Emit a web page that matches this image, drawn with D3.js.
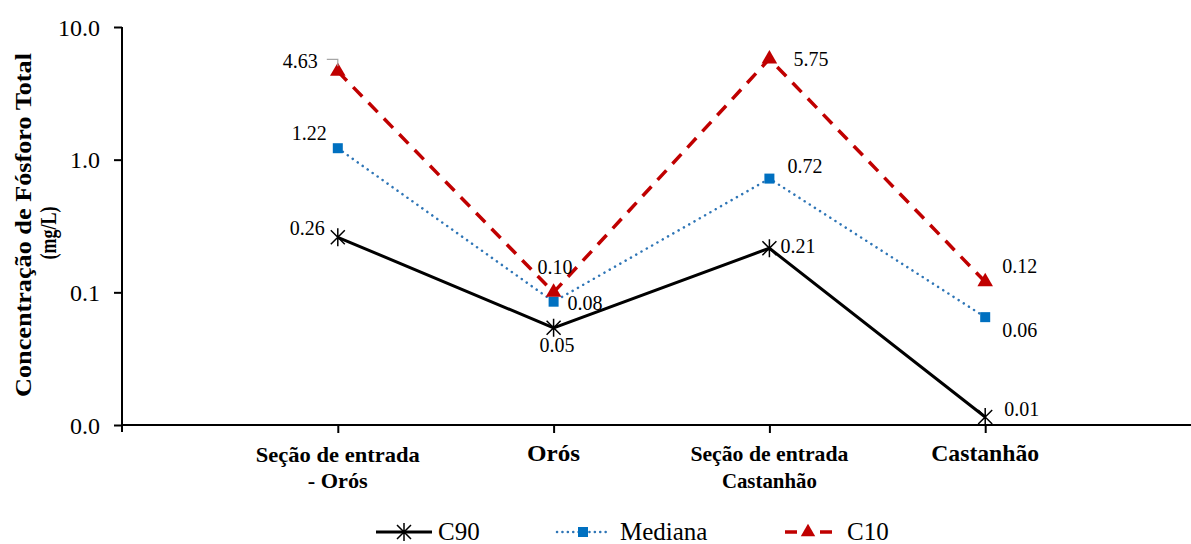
<!DOCTYPE html>
<html>
<head>
<meta charset="utf-8">
<script src="https://cdn.jsdelivr.net/npm/d3@7"></script>
</head>
<body style="margin:0; background:#fff">
<div id="chart-area"></div>
<script>
// data
var categories = ["Seção de entrada - Orós", "Orós", "Seção de entrada Castanhão", "Castanhão"];
var c90 = [0.26, 0.054, 0.215, 0.0115];
var mediana = [1.22, 0.085, 0.72, 0.065];
var c10 = [4.63, 0.10, 5.75, 0.12];
var c90Labels = ["0.26", "0.05", "0.21", "0.01"];
var medianaLabels = ["1.22", "0.08", "0.72", "0.06"];
var c10Labels = ["4.63", "0.10", "5.75", "0.12"];
var yTicks = [0.01, 0.1, 1, 10];
var yTickLabels = ["0.0", "0.1", "1.0", "10.0"];

var width = 1191, height = 544;
var FONT = "Liberation Serif";

var svg = d3.select("#chart-area")
    .append("svg")
        .attr("width", width)
        .attr("height", height)
        .attr("font-family", FONT);

var xScale = d3.scalePoint()
    .domain(categories)
    .range([122, 1201])
    .padding(1);

var yScale = d3.scaleLog()
    .domain([0.01, 10])
    .range([425, 27]);

// y axis
var yAxisCall = d3.axisLeft(yScale)
    .tickValues(yTicks)
    .tickSize(8)
    .tickFormat(function(d, i){ return yTickLabels[i]; });

var yAxis = svg.append("g")
    .attr("class", "y-axis")
    .attr("transform", "translate(122,0)")
    .call(yAxisCall)
    .attr("font-family", FONT)
    .attr("font-size", 24);
yAxis.select(".domain").attr("d", "M0,27V432").attr("stroke-width", 2);
yAxis.selectAll(".tick line").attr("stroke-width", 2);
yAxis.selectAll("text")
    .attr("font-family", FONT)
    .attr("font-size", "24px")
    .attr("fill", "#000")
    .attr("x", -22)
    .attr("dy", "0.34em");

// x axis
var xAxisCall = d3.axisBottom(xScale).tickSize(8).tickFormat("");
var xAxis = svg.append("g")
    .attr("class", "x-axis")
    .attr("transform", "translate(0,425)")
    .call(xAxisCall);
xAxis.select(".domain").attr("d", "M121,0H" + width).attr("stroke-width", 2);
xAxis.selectAll(".tick line").attr("stroke-width", 2);

// category labels: [text, font size, baseline, width]
var catLines = [
    [["Seção de entrada", 21, 462, 164], ["- Orós", 21, 488, 60]],
    [["Orós", 24, 461, 53]],
    [["Seção de entrada", 21, 461, 158], ["Castanhão", 21, 488, 95]],
    [["Castanhão", 24, 461, 108]]
];
categories.forEach(function(c, i){
    catLines[i].forEach(function(l){
        svg.append("text")
            .attr("x", xScale(c))
            .attr("y", l[2])
            .attr("text-anchor", "middle")
            .attr("font-family", FONT)
            .attr("font-weight", "bold")
            .attr("font-size", l[1] + "px")
            .attr("textLength", l[3])
            .attr("lengthAdjust", "spacingAndGlyphs")
            .text(l[0]);
    });
});

// y title
svg.append("text")
    .attr("transform", "translate(31,225) rotate(-90)")
    .attr("text-anchor", "middle")
    .attr("font-family", FONT)
    .attr("font-weight", "bold")
    .attr("font-size", "23px")
    .attr("textLength", 344)
    .attr("lengthAdjust", "spacingAndGlyphs")
    .text("Concentração de Fósforo Total");
svg.append("text")
    .attr("transform", "translate(56,233) rotate(-90)")
    .attr("text-anchor", "middle")
    .attr("font-family", FONT)
    .attr("font-weight", "bold")
    .attr("font-size", "23px")
    .attr("textLength", 53)
    .attr("lengthAdjust", "spacingAndGlyphs")
    .text("(mg/L)");

var line = d3.line()
    .x(function(d, i){ return xScale(categories[i]); })
    .y(function(d){ return yScale(d); });

var starPath = "M-7,-7L7,7M-7,7L7,-7M0,-9V9";

// C10
svg.append("path")
    .attr("d", line(c10))
    .attr("fill", "none")
    .attr("stroke", "#C00000")
    .attr("stroke-width", 3.5)
    .attr("stroke-dasharray", "13,9");
// Mediana
svg.append("path")
    .attr("d", line(mediana))
    .attr("fill", "none")
    .attr("stroke", "#2E75B6")
    .attr("stroke-width", 2.5)
    .attr("stroke-linecap", "round")
    .attr("stroke-dasharray", "0.1,6");
// C90
svg.append("path")
    .attr("d", line(c90))
    .attr("fill", "none")
    .attr("stroke", "#000")
    .attr("stroke-width", 3);

var tri = d3.symbol().type(d3.symbolTriangle).size(105);

svg.selectAll(".m-c90")
    .data(c90)
    .enter().append("path")
        .attr("class", "m-c90")
        .attr("d", starPath)
        .attr("stroke", "#000")
        .attr("stroke-width", 1.5)
        .attr("fill", "none")
        .attr("transform", function(d, i){ return "translate(" + xScale(categories[i]) + "," + yScale(d) + ")"; });

svg.selectAll(".m-med")
    .data(mediana)
    .enter().append("rect")
        .attr("class", "m-med")
        .attr("x", function(d, i){ return xScale(categories[i]) - 5; })
        .attr("y", function(d){ return yScale(d) - 5; })
        .attr("width", 10)
        .attr("height", 10)
        .attr("fill", "#0070C0");

svg.selectAll(".m-c10")
    .data(c10)
    .enter().append("path")
        .attr("class", "m-c10")
        .attr("d", tri)
        .attr("fill", "#C00000")
        .attr("transform", function(d, i){ return "translate(" + xScale(categories[i]) + "," + yScale(d) + ")"; });

// label offsets (dx to left edge, dy to baseline) from each point
var c90Off = [[-48, -2], [-14, 24], [11, 5], [19, -1]];
var medOff = [[-46, -8], [14, 8], [18, -6], [17, 20]];
var c10Off = [[-55, -3], [-16, -18], [24, 7], [17, -9]];

function addLabels(vals, labels, offs){
    vals.forEach(function(d, i){
        svg.append("text")
            .attr("x", xScale(categories[i]) + offs[i][0])
            .attr("y", yScale(d) + offs[i][1])
            .attr("font-family", FONT)
            .attr("font-size", "20px")
            .text(labels[i]);
    });
}
addLabels(c90, c90Labels, c90Off);
addLabels(mediana, medianaLabels, medOff);
addLabels(c10, c10Labels, c10Off);

// leader line for 4.63
var lx = xScale(categories[0]), ly = yScale(c10[0]);
svg.append("path")
    .attr("d", "M" + (lx - 11) + "," + (ly - 12) + "H" + lx + "V" + (ly - 5))
    .attr("fill", "none")
    .attr("stroke", "#a6a6a6")
    .attr("stroke-width", 1.2);

// legend
var legendNames = ["C90", "Mediana", "C10"];
var ly2 = 532;
var lg = svg.append("g");
lg.append("line").attr("x1", 376).attr("x2", 432).attr("y1", ly2).attr("y2", ly2)
    .attr("stroke", "#000").attr("stroke-width", 3);
lg.append("path").attr("d", starPath).attr("stroke", "#000").attr("stroke-width", 1.5)
    .attr("transform", "translate(404," + ly2 + ")");
lg.append("line").attr("x1", 557).attr("x2", 610).attr("y1", ly2).attr("y2", ly2)
    .attr("stroke", "#2E75B6").attr("stroke-width", 2.5).attr("stroke-linecap", "round")
    .attr("stroke-dasharray", "0.1,5.3");
lg.append("rect").attr("x", 578).attr("y", ly2 - 5).attr("width", 10).attr("height", 10)
    .attr("fill", "#0070C0");
lg.append("line").attr("x1", 785).attr("x2", 832).attr("y1", ly2).attr("y2", ly2)
    .attr("stroke", "#C00000").attr("stroke-width", 3.5).attr("stroke-dasharray", "12,23");
lg.append("path").attr("d", d3.symbol().type(d3.symbolTriangle).size(90))
    .attr("fill", "#C00000").attr("transform", "translate(808," + ly2 + ")");
var textX = [438, 620, 847];
legendNames.forEach(function(name, i){
    lg.append("text")
        .attr("x", textX[i])
        .attr("y", 540)
        .attr("font-family", FONT)
        .attr("font-size", "25px")
        .text(name);
});
</script>
</body>
</html>
